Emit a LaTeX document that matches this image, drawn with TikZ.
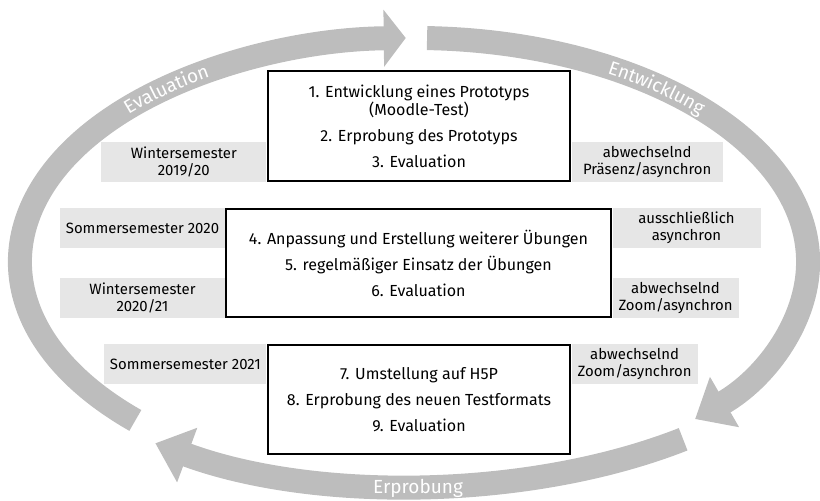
\documentclass[tikz,border=0pt]{standalone}
\usepackage{fontspec}
\setmainfont{Fira Sans}
\usetikzlibrary{arrows.meta,positioning,calc,decorations.text,backgrounds}
\definecolor{bandGray}{HTML}{BDBDBD}
\definecolor{tagGray}{HTML}{E6E6E6}

\begin{document}
\begin{tikzpicture}[x=0.025cm, y=-0.025cm,
     font=\fontsize{11.4}{13}\selectfont,
     phase/.style={draw, line width=1.8pt, fill=white, align=center, inner sep=0pt},
     tag/.style={fill=tagGray, minimum height=1cm, align=center, inner sep=0pt,
                 font=\fontsize{10.6}{12}\selectfont},
     band/.style={draw=bandGray, line width=0.6cm},
     bandhead/.style={-{Triangle[width=1.4cm, length=#1]}},
     bandtxt/.style={decorate, decoration={text along path, text align=center,
                 raise=-1.6mm, text={|\fontsize{13.5}{14}\selectfont\color{white}|#1}}}]
     \useasboundingbox (0,0) rectangle (820,500);
     \coordinate (C) at (414,262);
     \draw[band, bandhead=0.55cm] ($(C)+(225:9.85cm and 5.6cm)$)
          arc[start angle=225, end angle=91.2, x radius=9.85cm, y radius=5.6cm];
     \draw[band, bandhead=0.85cm] ($(C)+(88.1:9.85cm and 5.6cm)$)
          arc[start angle=88.1, end angle=-44.5, x radius=9.85cm, y radius=5.6cm];
     \draw[band, bandhead=0.85cm] ($(C)+(-52.3:11cm and 5.6cm)$)
          arc[start angle=-52.3, end angle=-126, x radius=11cm, y radius=5.6cm];
     \path[bandtxt=Evaluation] ($(C)+(153:9.85cm and 5.6cm)$)
          arc[start angle=153, end angle=109, x radius=9.85cm, y radius=5.6cm];
     \path[bandtxt=Entwicklung] ($(C)+(72:9.85cm and 5.6cm)$)
          arc[start angle=72, end angle=28, x radius=9.85cm, y radius=5.6cm];
     \node[text=white, font=\fontsize{13.5}{14}\selectfont] (erp) at (418,488) {Erprobung};

     \node[phase, minimum width=7.55cm, minimum height=2.75cm] (p1) at (419,126)
          {1. Entwicklung eines Prototyps\\(Moodle-Test)\\[5.5pt]2. Erprobung des Prototyps\\[5.5pt]3. Evaluation};
     \node[phase, minimum width=9.62cm, minimum height=2.7cm] (p2) at (418.5,263)
          {4. Anpassung und Erstellung weiterer Übungen\\[5.5pt]5. regelmäßiger Einsatz der Übungen\\[5.5pt]6. Evaluation};
     \node[phase, minimum width=7.55cm, minimum height=2.72cm] (p3) at (419,399.5)
          {7. Umstellung auf H5P\\[5.5pt]8. Erprobung des neuen Testformats\\[5.5pt]9. Evaluation};

     \begin{scope}[on background layer]
     \node[tag, minimum width=4.13cm, anchor=south east] (w19) at (p1.south west) {Wintersemester\\2019/20};
     \node[tag, minimum width=3.78cm, anchor=south west] (m1) at (p1.south east) {abwechselnd\\Präsenz/asynchron};
     \node[tag, minimum width=4.1cm, anchor=north east] (s20) at (p2.north west) {Sommersemester 2020};
     \node[tag, minimum width=4.1cm, anchor=south east] (w20) at (p2.south west) {Wintersemester\\2020/21};
     \node[tag, minimum width=3.7cm, anchor=north west] (m2) at (p2.north east) {ausschließlich\\asynchron};
     \node[tag, minimum width=3.15cm, anchor=south west] (m3) at (p2.south east) {abwechselnd\\Zoom/asynchron};
     \node[tag, minimum width=4.05cm, anchor=north east] (s21) at (p3.north west) {Sommersemester 2021};
     \node[tag, minimum width=3.15cm, anchor=north west] (m4) at (p3.north east) {abwechselnd\\Zoom/asynchron};
     \end{scope}
  \end{tikzpicture}
\end{document}
